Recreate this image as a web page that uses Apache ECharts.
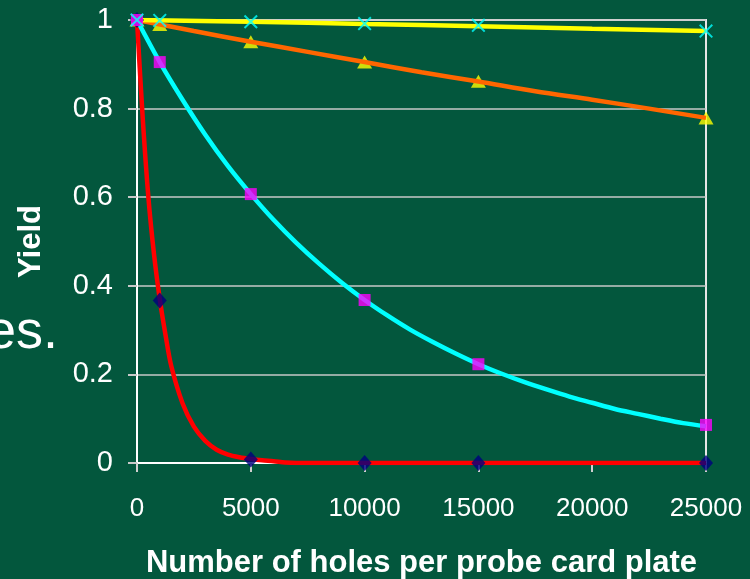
<!DOCTYPE html>
<html>
<head>
<meta charset="utf-8">
<script src="https://cdn.jsdelivr.net/npm/echarts@6/dist/echarts.min.js"></script>
<style>
html,body{margin:0;padding:0;background:#03573d;}
#chart{width:750px;height:579px;}
</style>
</head>
<body>
<div id="chart"></div>
<script>
// ---- data ----
const markerX = [0, 1000, 5000, 10000, 15000, 25000];
const diamondY = [1, 0.367, 0.008, 0, 0, 0];
const squareY = [1, 0.905, 0.607, 0.368, 0.223, 0.086];
const triangleY = [1, 0.99, 0.951, 0.905, 0.862, 0.779];
const crossY = [1, 0.999, 0.996, 0.992, 0.988, 0.975];

const redX = [0, 250, 500, 750, 1000, 1250, 1500, 2000, 2500, 3000, 3500, 4000, 4500, 5000, 5500, 6000, 6500, 7000, 10000, 15000, 20000, 25000];
const redY = [1, 0.78, 0.6, 0.47, 0.37, 0.29, 0.22, 0.135, 0.082, 0.05, 0.03, 0.019, 0.013, 0.009, 0.006, 0.004, 0.001, 0, 0, 0, 0, 0];

const cyanX = [0, 1000, 2000, 3000, 4000, 5000, 6000, 7000, 8000, 9000, 10000, 11000, 12000, 13000, 14000, 15000, 16000, 17000, 18000, 19000, 20000, 21000, 22000, 23000, 24000, 25000];
const cyanY = [1, 0.905, 0.82, 0.741, 0.67, 0.607, 0.549, 0.497, 0.45, 0.407, 0.368, 0.333, 0.301, 0.273, 0.247, 0.223, 0.202, 0.183, 0.166, 0.15, 0.136, 0.122, 0.111, 0.1, 0.09, 0.083];

const orangeX = [0, 2500, 5000, 7500, 10000, 12500, 15000, 17500, 20000, 22500, 25000];
const orangeY = [1, 0.975, 0.951, 0.928, 0.905, 0.882, 0.861, 0.839, 0.82, 0.8, 0.779];

const yellowX = [0, 5000, 10000, 15000, 20000, 25000];
const yellowY = [1, 0.996, 0.991, 0.986, 0.98, 0.975];

const xTicks = { min: 0, max: 25000, interval: 5000 };
const yTicks = { min: 0, max: 1, interval: 0.2 };

const xTitle = 'Number of holes per probe card plate';
const yTitle = 'Yield';
const sideText = 'es.';

function pairs(xs, ys) { return xs.map((x, i) => [x, ys[i]]); }

const FONT = "'Liberation Sans', Arial, sans-serif";
const crossPath = 'path://M0,1 L1,0 L5,4 L9,0 L10,1 L6,5 L10,9 L9,10 L5,6 L1,10 L0,9 L4,5 Z';

const chart = echarts.init(document.getElementById('chart'), null, { renderer: 'canvas' });
chart.setOption({
  backgroundColor: '#03573d',
  animation: false,
  grid: {
    left: 137, top: 20, width: 569, height: 443,
    containLabel: false, outerBoundsMode: 'none',
    show: true, borderColor: '#e6e6e6', borderWidth: 2, backgroundColor: 'transparent'
  },
  xAxis: {
    type: 'value', min: xTicks.min, max: xTicks.max, interval: xTicks.interval,
    name: xTitle, nameLocation: 'middle', nameGap: 85,
    nameTextStyle: { color: '#ffffff', fontFamily: FONT, fontSize: 31, fontWeight: 'bold' },
    axisLine: { show: true, lineStyle: { color: '#ffffff', width: 2 } },
    axisTick: { show: true, length: 9, lineStyle: { color: '#d0d0d0', width: 2 } },
    axisLabel: { color: '#ffffff', fontFamily: FONT, fontSize: 26, margin: 33, formatter: v => String(v) },
    splitLine: { show: false }
  },
  yAxis: {
    type: 'value', min: yTicks.min, max: yTicks.max, interval: yTicks.interval,
    name: yTitle, nameLocation: 'middle', nameGap: 90,
    nameTextStyle: { color: '#ffffff', fontFamily: FONT, fontSize: 31, fontWeight: 'bold' },
    axisLine: { show: true, lineStyle: { color: '#ffffff', width: 2 } },
    axisTick: { show: true, length: 9, lineStyle: { color: '#c8c8c8', width: 2 } },
    axisLabel: { color: '#ffffff', fontFamily: FONT, fontSize: 29, margin: 24, formatter: v => String(+v.toFixed(1)) },
    splitLine: { show: true, lineStyle: { color: '#c8c8c8', width: 1.5 } }
  },
  graphic: [{
    type: 'text', right: 692, top: 306,
    style: { text: sideText, fill: '#ffffff', font: "54px 'Liberation Sans', Arial, sans-serif" }
  }],
  series: [
    { type: 'scatter', name: 'triangles', data: pairs(markerX, triangleY), symbol: 'triangle', symbolSize: [15, 13], itemStyle: { color: '#ffff00' }, z: 1 },
    { type: 'line', name: 'red', data: pairs(redX, redY), smooth: 0.3, showSymbol: false, symbol: 'none', lineStyle: { color: '#ff0000', width: 4.5 }, z: 2 },
    { type: 'line', name: 'cyan', data: pairs(cyanX, cyanY), smooth: 0.3, showSymbol: false, symbol: 'none', lineStyle: { color: '#00ffff', width: 4.5 }, z: 2 },
    { type: 'line', name: 'orange', data: pairs(orangeX, orangeY), smooth: 0.3, showSymbol: false, symbol: 'none', lineStyle: { color: '#ff6600', width: 4.5 }, z: 2 },
    { type: 'line', name: 'yellow', data: pairs(yellowX, yellowY), smooth: 0.3, showSymbol: false, symbol: 'none', lineStyle: { color: '#ffff00', width: 4.5 }, z: 2 },
    { type: 'scatter', name: 'diamonds', data: pairs(markerX, diamondY), symbol: 'diamond', symbolSize: [14, 16], itemStyle: { color: '#000080' }, z: 3 },
    { type: 'scatter', name: 'squares', data: pairs(markerX, squareY), symbol: 'rect', symbolSize: 12, itemStyle: { color: '#ff00ff' }, z: 3 },
    { type: 'scatter', name: 'crosses', data: pairs(markerX, crossY), symbol: crossPath, symbolSize: 14, itemStyle: { color: '#00ffff' }, z: 4 }
  ]
});
</script>
</body>
</html>
